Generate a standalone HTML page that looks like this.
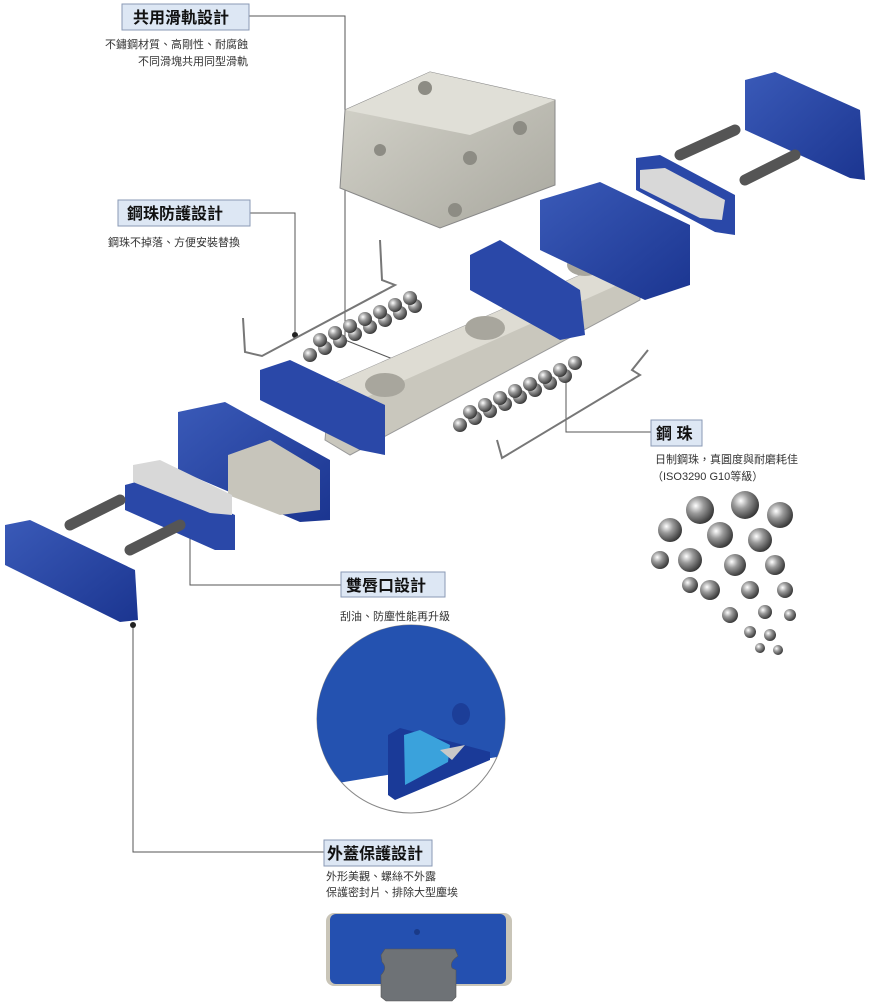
<!DOCTYPE html>
<html><head><meta charset="utf-8"><style>
html,body{margin:0;padding:0;background:#fff;}
svg{display:block;}
text{font-family:"Liberation Sans","Noto Sans CJK TC",sans-serif;}
</style></head><body>
<svg width="886" height="1007" viewBox="0 0 886 1007" xmlns="http://www.w3.org/2000/svg">
<defs>
<radialGradient id="ball" cx="0.35" cy="0.35" r="0.7"><stop offset="0" stop-color="#fff"/><stop offset="0.4" stop-color="#9a9a9a"/><stop offset="1" stop-color="#333"/></radialGradient>
<linearGradient id="blk" x1="0" y1="0" x2="1" y2="1"><stop offset="0" stop-color="#d6d5cc"/><stop offset="1" stop-color="#a9a89f"/></linearGradient>
<linearGradient id="blue" x1="0" y1="0" x2="1" y2="1"><stop offset="0" stop-color="#3a5ab8"/><stop offset="1" stop-color="#1b3590"/></linearGradient>
<clipPath id="cc"><circle cx="411" cy="719" r="94"/></clipPath>
</defs>
<g stroke="#555" stroke-width="1" fill="none">
<polyline points="249,16 345,16 345,340 408,365"/>
<polyline points="250,213 295,213 295,335"/>
<polyline points="566,375 566,432 651,432"/>
<polyline points="190,522 190,585 341,585"/>
<polyline points="133,625 133,852 324,852"/>
</g>
<g fill="#222"><circle cx="375" cy="122" r="3"/><circle cx="408" cy="365" r="3"/><circle cx="295" cy="335" r="3"/><circle cx="566" cy="375" r="3"/><circle cx="190" cy="522" r="3"/><circle cx="133" cy="625" r="3"/></g>
<polygon points="345,110 430,72 555,100 555,185 440,228 340,188" fill="url(#blk)" stroke="#888"/>
<polygon points="345,110 430,72 555,100 470,135" fill="#e0dfd7"/>
<g fill="#8d8c84"><circle cx="425" cy="88" r="7"/><circle cx="520" cy="128" r="7"/><circle cx="470" cy="158" r="7"/><circle cx="380" cy="150" r="6"/><circle cx="455" cy="210" r="7"/></g>
<polygon points="330,385 610,262 640,275 640,300 350,455 325,440" fill="#c9c7bd" stroke="#999"/>
<polygon points="330,385 610,262 640,275 360,400" fill="#dedcd3"/>
<g fill="#a8a69d"><ellipse cx="385" cy="385" rx="20" ry="12"/><ellipse cx="485" cy="328" rx="20" ry="12"/><ellipse cx="585" cy="265" rx="18" ry="11"/></g>
<polygon points="540,200 600,182 690,225 690,285 645,300 540,250" fill="url(#blue)"/>
<polygon points="470,255 500,240 580,290 585,335 560,340 470,290" fill="#2a48a8"/>
<polygon points="260,370 290,360 385,405 385,455 360,450 260,400" fill="#2a48a8"/>
<polygon points="178,412 225,402 330,460 330,520 300,522 178,470" fill="url(#blue)"/>
<polygon points="228,455 270,440 320,470 320,510 280,515 228,495" fill="#c7c5bb"/>
<polygon points="745,80 775,72 860,110 865,180 850,178 745,130" fill="url(#blue)"/>
<polygon points="636,158 660,155 735,195 735,235 715,232 636,190" fill="#2a48a8"/>
<polygon points="640,170 665,168 725,200 722,220 700,218 640,188" fill="#d8d8d8"/>
<polygon points="5,525 30,520 135,570 138,620 120,622 5,565" fill="url(#blue)"/>
<polygon points="125,485 150,478 235,515 235,550 215,550 125,510" fill="#2a48a8"/>
<polygon points="133,465 160,460 232,495 232,515 210,513 133,482" fill="#d8d8d8"/>
<g stroke="#555" stroke-width="11" stroke-linecap="round"><line x1="680" y1="155" x2="735" y2="130"/><line x1="745" y1="180" x2="795" y2="155"/><line x1="70" y1="525" x2="120" y2="500"/><line x1="130" y1="550" x2="180" y2="525"/></g>
<g stroke="#777" stroke-width="2" fill="none"><polyline points="243,318 245,352 262,356 395,285 382,280 380,240"/><polyline points="497,440 502,458 640,375 632,370 648,350"/></g>
<g fill="url(#ball)">
<circle cx="310" cy="355" r="7"/><circle cx="325" cy="348" r="7"/><circle cx="340" cy="341" r="7"/><circle cx="355" cy="334" r="7"/><circle cx="370" cy="327" r="7"/><circle cx="385" cy="320" r="7"/><circle cx="400" cy="313" r="7"/><circle cx="415" cy="306" r="7"/>
<circle cx="320" cy="340" r="7"/><circle cx="335" cy="333" r="7"/><circle cx="350" cy="326" r="7"/><circle cx="365" cy="319" r="7"/><circle cx="380" cy="312" r="7"/><circle cx="395" cy="305" r="7"/><circle cx="410" cy="298" r="7"/>
<circle cx="460" cy="425" r="7"/><circle cx="475" cy="418" r="7"/><circle cx="490" cy="411" r="7"/><circle cx="505" cy="404" r="7"/><circle cx="520" cy="397" r="7"/><circle cx="535" cy="390" r="7"/><circle cx="550" cy="383" r="7"/><circle cx="565" cy="376" r="7"/>
<circle cx="470" cy="412" r="7"/><circle cx="485" cy="405" r="7"/><circle cx="500" cy="398" r="7"/><circle cx="515" cy="391" r="7"/><circle cx="530" cy="384" r="7"/><circle cx="545" cy="377" r="7"/><circle cx="560" cy="370" r="7"/><circle cx="575" cy="363" r="7"/>
</g>
<g fill="url(#ball)">
<circle cx="700" cy="510" r="14"/><circle cx="745" cy="505" r="14"/><circle cx="780" cy="515" r="13"/><circle cx="670" cy="530" r="12"/><circle cx="720" cy="535" r="13"/><circle cx="760" cy="540" r="12"/><circle cx="690" cy="560" r="12"/><circle cx="735" cy="565" r="11"/><circle cx="775" cy="565" r="10"/><circle cx="660" cy="560" r="9"/><circle cx="710" cy="590" r="10"/><circle cx="750" cy="590" r="9"/><circle cx="785" cy="590" r="8"/><circle cx="730" cy="615" r="8"/><circle cx="765" cy="612" r="7"/><circle cx="750" cy="632" r="6"/><circle cx="770" cy="635" r="6"/><circle cx="790" cy="615" r="6"/><circle cx="760" cy="648" r="5"/><circle cx="778" cy="650" r="5"/><circle cx="690" cy="585" r="8"/>
</g>
<!-- detail circle -->
<circle cx="411" cy="719" r="94" fill="#fff" stroke="#888" stroke-width="1"/>
<g clip-path="url(#cc)">
<polygon points="300,600 520,600 520,760 497,757 338,783 300,790" fill="#2452b0"/>
<polygon points="388,735 400,728 490,752 490,760 395,800 388,795" fill="#1a3a98"/>
<polygon points="404,735 420,730 450,745 448,762 405,785" fill="#3aa2dc"/>
<polygon points="440,750 465,745 452,760" fill="#c8c8c8"/>
<ellipse cx="461" cy="714" rx="9" ry="11" fill="#1c3e98"/>
</g>
<!-- bottom cap -->
<rect x="326" y="913" width="186" height="73" rx="8" fill="#c9c5b8"/>
<rect x="330" y="914" width="176" height="70" rx="6" fill="#2450b0"/>
<circle cx="417" cy="932" r="3" fill="#1a3a88"/>
<path d="M385,949 H455 L458,956 Q449,962 452,968 L456,970 V997 L452,1001 H386 L381,997 V975 Q388,968 382,962 L381,955 Z" fill="#6e7276" stroke="#555" stroke-width="0.6"/>
<g stroke="#8a9ab5" stroke-width="1" fill="#dde7f4">
<rect x="122" y="4" width="127" height="26"/><rect x="118" y="200" width="132" height="26"/><rect x="651" y="420" width="51" height="26"/><rect x="341" y="572" width="104" height="25"/><rect x="324" y="840" width="108" height="26"/>
</g>
<g fill="#111" font-size="16" font-weight="bold">
<text x="133" y="23">共用滑軌設計</text><text x="127" y="219">鋼珠防護設計</text><text x="656" y="439">鋼 珠</text><text x="346" y="591">雙唇口設計</text><text x="327" y="859">外蓋保護設計</text>
</g>
<g fill="#333" font-size="11">
<text x="248" y="48" text-anchor="end">不鏽鋼材質、高剛性、耐腐蝕</text>
<text x="248" y="65" text-anchor="end">不同滑塊共用同型滑軌</text>
<text x="108" y="246">鋼珠不掉落、方便安裝替換</text>
<text x="655" y="463">日制鋼珠，真圓度與耐磨耗佳</text>
<text x="652" y="480">（ISO3290 G10等級）</text>
<text x="340" y="620">刮油、防塵性能再升級</text>
<text x="326" y="880">外形美觀、螺絲不外露</text>
<text x="326" y="896">保護密封片、排除大型塵埃</text>
</g>
</svg>
</body></html>
